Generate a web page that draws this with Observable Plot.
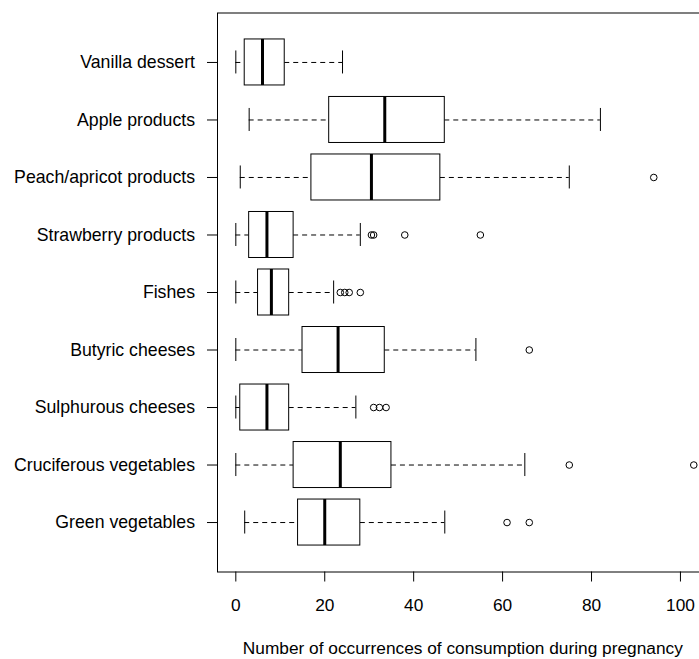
<!DOCTYPE html>
<html>
<head>
<meta charset="utf-8">
<script src="https://cdn.jsdelivr.net/npm/d3@7"></script>
<script src="https://cdn.jsdelivr.net/npm/@observablehq/plot@0.6"></script>
<style>
  body { margin: 0; background: white; }
  #chart svg { font-family: "Liberation Sans", Arial, sans-serif; }
</style>
</head>
<body>
<div id="chart"></div>
<script>
// Categories listed top to bottom
const categories = ["Vanilla dessert", "Apple products", "Peach/apricot products", "Strawberry products", "Fishes", "Butyric cheeses", "Sulphurous cheeses", "Cruciferous vegetables", "Green vegetables"];
const mins    = [0, 3, 1, 0, 0, 0, 0, 0, 2];
const q1s     = [2, 21, 17, 3, 5, 15, 1, 13, 14];
const medians = [6, 33.5, 30.5, 7, 8, 23, 7, 23.5, 20];
const q3s     = [11, 47, 46, 13, 12, 33.5, 12, 35, 28];
const maxs    = [24, 82, 75, 28, 22, 54, 27, 65, 47];
const outliers = [[], [], [94], [30.5, 31, 38, 55], [23.5, 24.5, 25.5, 28], [66], [31, 32.3, 33.8], [75, 103], [61, 66]];
const xTicks = [0, 20, 40, 60, 80, 100];
const xLabel = "Number of occurrences of consumption during pregnancy";

const n = categories.length;
const rows = categories.map((c, i) => ({
  cat: c, pos: n - i, min: mins[i], q1: q1s[i], med: medians[i], q3: q3s[i], max: maxs[i]
}));
const outPts = outliers.flatMap((arr, i) => arr.map(v => ({pos: n - i, v})));
const posToCat = new Map(rows.map(r => [r.pos, r.cat]));

const allVals = [...mins, ...maxs, ...outliers.flat()];
const lo = d3.min(allVals), hi = d3.max(allVals);
const pad = (hi - lo) * 0.04;
const yPad = n * 0.04;

const fs = 17.3;
const chart = Plot.plot({
  width: 699,
  height: 659,
  marginLeft: 217,
  marginTop: 12.5,
  marginBottom: 87.5,
  marginRight: -12.6,
  style: {fontFamily: "Liberation Sans, Arial, sans-serif", fontSize: fs + "px", color: "black", background: "white"},
  x: {domain: [lo - pad, hi + pad]},
  y: {domain: [0.5 - yPad, n + 0.5 + yPad]},
  marks: [
    Plot.frame({stroke: "black", strokeWidth: 1}),
    // whiskers (dashed)
    Plot.ruleY(rows, {y: "pos", x1: "min", x2: "q1", stroke: "black", strokeDasharray: "5,4", strokeWidth: 1}),
    Plot.ruleY(rows, {y: "pos", x1: "q3", x2: "max", stroke: "black", strokeDasharray: "5,4", strokeWidth: 1}),
    // staples
    Plot.ruleX(rows, {x: "min", y1: d => d.pos - 0.2, y2: d => d.pos + 0.2, stroke: "black", strokeWidth: 1}),
    Plot.ruleX(rows, {x: "max", y1: d => d.pos - 0.2, y2: d => d.pos + 0.2, stroke: "black", strokeWidth: 1}),
    // boxes
    Plot.rect(rows, {x1: "q1", x2: "q3", y1: d => d.pos - 0.4, y2: d => d.pos + 0.4, fill: "white", stroke: "black", strokeWidth: 1}),
    // medians
    Plot.ruleX(rows, {x: "med", y1: d => d.pos - 0.4, y2: d => d.pos + 0.4, stroke: "black", strokeWidth: 3}),
    // outliers
    Plot.dot(outPts, {x: "v", y: "pos", r: 3.3, stroke: "black", fill: "none", strokeWidth: 1}),
    Plot.axisX({ticks: xTicks, tickSize: 10, tickPadding: 17, label: null, tickFormat: d => String(d), fontSize: fs}),
    Plot.axisY({ticks: rows.map(r => r.pos), tickSize: 10, tickPadding: 12.5, label: null, tickFormat: d => posToCat.get(d), fontSize: 17.7}),
    Plot.text([xLabel], {frameAnchor: "bottom", dy: 82, dx: -2, lineAnchor: "bottom", fontSize: fs, fill: "black"})
  ]
});
document.getElementById("chart").appendChild(chart);
</script>
</body>
</html>
